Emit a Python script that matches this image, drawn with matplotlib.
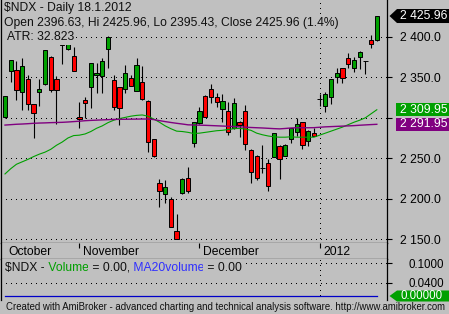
import matplotlib
matplotlib.use("Agg")
import matplotlib.pyplot as plt
from matplotlib.patches import Polygon
import numpy as np

# ---------------- data ----------------
opens = [2301.2, 2358.3, 2358.8, 2331.6, 2348.0, 2316.7, 2331.6, 2341.5, 2374.9, 2348.4,
         2396.0, 2384.8, 2376.5, 2300.6, 2322.0, 2338.5, 2352.6, 2352.1, 2385.1, 2346.8,
         2337.7, 2335.3, 2349.6, 2333.5, 2343.9, 2320.8, 2273.4, 2219.3, 2205.3, 2199.1,
         2159.9, 2206.6, 2225.1, 2269.2, 2293.2, 2326.6, 2335.3, 2326.1, 2311.3, 2308.8,
         2287.0, 2294.8, 2308.4, 2260.2, 2252.7, 2237.5, 2243.7, 2251.9, 2265.1, 2253.1,
         2273.4, 2282.8, 2294.4, 2271.7, 2280.8, 2322.9, 2314.6, 2325.4, 2350.1, 2361.3,
         2373.6, 2362.0, 2375.6, 2370.7, 2395.9, 2396.63]
highs = [2327.5, 2371.5, 2370.3, 2373.6, 2353.0, 2317.5, 2348.0, 2384.5, 2376.0, 2351.7,
         2400.0, 2398.0, 2388.0, 2320.0, 2326.0, 2368.0, 2367.5, 2373.6, 2401.0, 2353.0,
         2338.0, 2365.3, 2353.0, 2374.4, 2364.5, 2321.5, 2274.0, 2224.3, 2223.0, 2202.4,
         2180.6, 2225.0, 2239.5, 2294.8, 2313.0, 2328.0, 2341.8, 2330.3, 2330.0, 2320.0,
         2324.9, 2296.0, 2315.5, 2261.0, 2253.5, 2266.3, 2248.6, 2281.5, 2266.0, 2267.6,
         2287.5, 2299.4, 2295.0, 2284.5, 2287.0, 2329.5, 2332.3, 2348.0, 2361.3, 2362.0,
         2380.6, 2375.6, 2382.7, 2370.7, 2402.5, 2425.96]
lows = [2299.4, 2344.7, 2322.0, 2309.7, 2309.7, 2274.6, 2314.6, 2340.5, 2332.3, 2292.3,
        2366.0, 2384.0, 2358.0, 2287.8, 2299.4, 2311.8, 2331.0, 2330.3, 2361.3, 2309.7,
        2291.0, 2331.0, 2339.5, 2333.0, 2322.0, 2258.0, 2251.0, 2190.0, 2195.0, 2165.0,
        2150.0, 2206.0, 2206.6, 2264.2, 2292.5, 2300.5, 2318.0, 2313.7, 2295.0, 2278.7,
        2286.0, 2276.0, 2260.2, 2219.7, 2223.0, 2232.0, 2209.8, 2251.0, 2223.9, 2252.5,
        2268.4, 2277.5, 2261.4, 2265.5, 2277.0, 2314.6, 2307.5, 2317.0, 2342.7, 2342.7,
        2361.3, 2357.0, 2360.0, 2354.2, 2386.0, 2395.43]
closes = [2326.6, 2371.2, 2334.0, 2363.7, 2316.7, 2305.6, 2335.3, 2383.5, 2334.4, 2334.0,
          2390.0, 2394.0, 2358.3, 2298.5, 2318.0, 2367.5, 2355.4, 2370.3, 2400.4, 2313.0,
          2311.8, 2355.4, 2339.7, 2365.3, 2323.6, 2270.4, 2252.7, 2209.8, 2214.7, 2165.2,
          2150.4, 2223.9, 2209.8, 2294.4, 2308.4, 2301.4, 2326.1, 2320.0, 2320.8, 2282.0,
          2318.0, 2291.5, 2267.2, 2232.6, 2225.9, 2237.5, 2215.6, 2280.8, 2248.6, 2266.0,
          2287.0, 2292.0, 2266.3, 2284.0, 2277.5, 2322.9, 2329.1, 2347.6, 2355.1, 2349.6,
          2366.2, 2371.5, 2381.0, 2370.7, 2391.7, 2425.96]
ma_green = [2230.5, 2237.0, 2242.5, 2245.5, 2248.5, 2252.0, 2255.0, 2257.5, 2261.0, 2266.0,
            2270.0, 2275.0, 2278.0, 2278.5, 2280.0, 2283.0, 2287.0, 2290.0, 2294.0, 2297.0,
            2299.0, 2300.5, 2302.0, 2303.0, 2303.5, 2302.0, 2298.5, 2294.5, 2290.0, 2286.5,
            2283.5, 2283.0, 2282.0, 2280.5, 2281.0, 2282.0, 2283.0, 2284.0, 2284.5, 2285.5,
            2286.5, 2287.0, 2286.0, 2284.5, 2281.0, 2279.0, 2277.5, 2276.5, 2276.0, 2276.0,
            2276.5, 2276.0, 2276.0, 2276.0, 2276.0, 2278.5, 2281.0, 2283.5, 2286.0, 2288.5,
            2291.5, 2294.5, 2297.0, 2300.0, 2305.0, 2309.95]
ma_purple = [2291.0, 2291.5, 2292.0, 2292.3, 2292.7, 2293.2, 2293.5, 2293.7, 2294.0, 2294.2,
             2294.4, 2294.8, 2295.3, 2295.8, 2296.4, 2296.8, 2297.1, 2297.4, 2297.7, 2298.0,
             2298.1, 2298.2, 2298.3, 2298.4, 2298.5, 2298.5, 2297.8, 2296.5, 2295.3, 2294.2,
             2293.2, 2292.3, 2291.3, 2291.1, 2290.9, 2290.7, 2290.4, 2290.1, 2289.8, 2289.5,
             2289.2, 2288.8, 2288.4, 2288.0, 2287.7, 2287.4, 2287.0, 2286.6, 2286.3, 2286.8,
             2287.4, 2287.7, 2287.7, 2287.7, 2287.8, 2288.3, 2288.8, 2289.1, 2289.4, 2289.7,
             2290.0, 2290.3, 2290.8, 2291.2, 2291.6, 2291.95]
volume = [0.0] * 66
ma20_volume = [0.0] * 66
month_names = ["October", "November", "December", "2012"]
month_start = [0, 13, 34, 55]
price_ticks = [2150, 2200, 2250, 2300, 2350, 2400]
price_tick_labels = ["2 150.0", "2 200.0", "2 250.0", "", "2 350.0", "2 400.0"]
vol_ticks = [0.04, 0.1]
vol_tick_labels = ["0.0400", "0.1000"]

# ---------------- layout ----------------
W, H = 449, 314
BG = '#C0C0C0'
TXT = '#101010'
FS = 8.7
plt.rcParams['font.family'] = ['Liberation Sans', 'DejaVu Sans']
fig = plt.figure(figsize=(W / 100, H / 100), dpi=100, facecolor=BG)

def fx(px):
    return px / W

def fy(py):
    return 1 - py / H

L, R = 1, 387
ax = fig.add_axes([fx(L), fy(243), fx(R - L), 243 / H], facecolor=BG)
axm = fig.add_axes([fx(L), fy(259), fx(R - L), 16 / H], facecolor=BG)
axv = fig.add_axes([fx(L), fy(300), fx(R - L), 41 / H], facecolor=BG)

n = len(opens)
x = np.arange(n)
XL = (-0.7, 66.78)
for a in (ax, axm, axv):
    a.set_xlim(*XL)
    for s in a.spines.values():
        s.set_color('black')
        s.set_linewidth(0.9)
    a.spines['top'].set_visible(False)
axv.spines['bottom'].set_visible(False)

ax.set_ylim(2145.05, 2445.79)
dots = (0, (1, 5))
GLW = 0.72

# grid
for t in price_ticks:
    ax.axhline(t, color='black', lw=GLW, ls=dots, zorder=1, antialiased=False)
ax.axvline(55, color='black', lw=GLW, ls=dots, zorder=1, antialiased=False)

# candles
o = np.array(opens); c = np.array(closes)
cols = ['#00A000' if cc > oo else ('#FF0000' if cc < oo else 'black') for oo, cc in zip(o, c)]
ax.vlines(x, lows, highs, color='black', lw=0.8, zorder=2)
ax.bar(x, np.abs(c - o), bottom=np.minimum(o, c), width=0.75, color=cols,
       edgecolor='black', linewidth=0.7, zorder=3)

ax.plot(x, ma_green, color='#00A000', lw=0.8, zorder=4)
ax.plot(x, ma_purple, color='#800080', lw=1.0, zorder=4)

ax.yaxis.tick_right()
ax.set_yticks(price_ticks)
ax.set_yticklabels(price_tick_labels)
ax.tick_params(axis='y', direction='out', length=3.6, width=0.8, pad=5.8,
               labelsize=FS, colors='black')
ax.set_xticks([])

# month strip
axm.set_ylim(0, 1)
axm.set_xticks([]); axm.set_yticks([])
axm.vlines(month_start[1:], 0.68, 1.0, color='black', lw=0.8)
for name, i in zip(month_names, month_start):
    axm.text(i + 0.62, 0.45, name, fontsize=FS, va='center', ha='left', color='black')

# volume panel
axv.set_ylim(-0.01221, 0.11298)
axv.bar(x, volume, width=0.75, color='#00A000')
axv.plot(x, ma20_volume, color='#0000C8', lw=0.9)
for t in vol_ticks:
    axv.axhline(t, color='black', lw=GLW, ls=dots, zorder=1, antialiased=False)
axv.axvline(55, color='black', lw=GLW, ls=dots, zorder=1, antialiased=False)
axv.yaxis.tick_right()
axv.set_yticks(vol_ticks)
axv.set_yticklabels(vol_tick_labels)
axv.tick_params(axis='y', direction='out', length=3.6, width=0.8, pad=12.2,
                labelsize=8.3, colors='black')
axv.set_xticks([])

# ---------------- texts ----------------
box = dict(facecolor=BG, edgecolor='none', pad=0.6)
fig.text(fx(4), fy(8), "$NDX - Daily 18.1.2012", fontsize=FS, color=TXT, va='center',
         ha='left', parse_math=False, zorder=6, bbox=box)
fig.text(fx(4), fy(23), "Open 2396.63, Hi 2425.96, Lo 2395.43, Close 2425.96 (1.4%)",
         fontsize=FS, color=TXT, va='center', ha='left', parse_math=False, zorder=6, bbox=box)
fig.text(fx(7), fy(37), "ATR: 32.823", fontsize=FS, color=TXT, va='center', ha='left',
         parse_math=False, zorder=6, bbox=dict(facecolor=BG, edgecolor='none', pad=1.2))

fig.canvas.draw()
rend = fig.canvas.get_renderer()
xpos = 5
for txt, col in [("$NDX -", TXT), (" Volume", '#00A000'), (" = 0.00,", TXT),
                 (" MA20volume", '#3030FF'), (" = 0.00", TXT)]:
    tt = fig.text(xpos / W, fy(268), txt, fontsize=FS, color=col, va='center', ha='left',
                  parse_math=False, zorder=6, bbox=box)
    xpos = tt.get_window_extent(rend).x1

fig.text(fx(6), fy(307), "Created with AmiBroker - advanced charting and technical analysis software. http://www.amibroker.com",
         fontsize=6.9, color=TXT, va='center', ha='left', parse_math=False)

# ---------------- value labels ----------------
def ypx(a, v):
    return H - a.transData.transform((0, v))[1]

def value_label(a, v, text, fc, arrow, h, fs=FS):
    yc = ypx(a, v)
    if arrow:
        verts = [(389.5, yc), (397, yc - h / 2), (449, yc - h / 2), (449, yc + h / 2), (397, yc + h / 2)]
    else:
        verts = [(396, yc - h / 2), (449, yc - h / 2), (449, yc + h / 2), (396, yc + h / 2)]
    fig.add_artist(Polygon([(fx(p), fy(q)) for p, q in verts], closed=True,
                           transform=fig.transFigure, facecolor=fc, edgecolor='none', zorder=7))
    fig.text(fx(400.5), fy(yc), text, fontsize=fs, color='white', va='center', ha='left',
             parse_math=False, zorder=8)

value_label(ax, closes[-1], "2 425.96", 'black', True, 14)
value_label(ax, ma_green[-1], "2 309.95", '#00A000', False, 13)
value_label(ax, ma_purple[-1], "2 291.95", '#800080', False, 13)
value_label(axv, ma20_volume[-1], "0.00000", '#00A000', True, 11, fs=8.3)

fig.savefig("out.png", dpi=100, facecolor=BG)
